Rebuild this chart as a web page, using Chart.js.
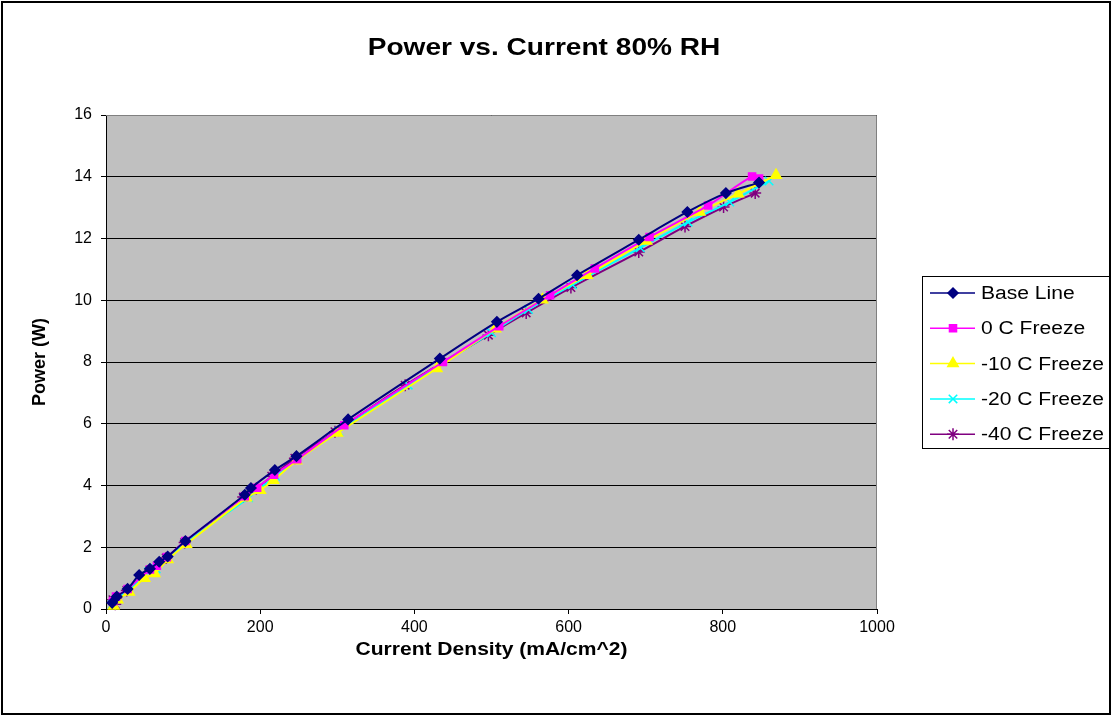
<!DOCTYPE html>
<html>
<head>
<meta charset="utf-8">
<title>Power vs. Current 80% RH</title>
<script src="https://cdn.jsdelivr.net/npm/chart.js@4/dist/chart.umd.min.js"></script>
<style>
  html, body { margin: 0; padding: 0; background: #fff; }
  canvas { display: block; }
</style>
</head>
<body>
<canvas id="power-chart" width="1112" height="717"></canvas>
<script>
// Current density (mA/cm^2) and power (W) for each run
const baseLineX = [8, 14, 28, 43, 57, 69, 80, 103, 180, 188, 219, 247, 314, 433, 507, 561, 611, 691, 754, 804, 847];
const baseLineY = [0.2, 0.4, 0.65, 1.1, 1.3, 1.53, 1.7, 2.2, 3.7, 3.92, 4.5, 4.95, 6.14, 8.11, 9.3, 10.05, 10.81, 11.96, 12.86, 13.47, 13.81];

const freeze0X = [9, 13, 28, 57, 66, 79, 103, 180, 196, 218, 248, 309, 437, 510, 576, 634, 705, 781, 838, 847];
const freeze0Y = [0.25, 0.4, 0.65, 1.28, 1.4, 1.68, 2.2, 3.65, 3.93, 4.35, 4.85, 5.95, 8.0, 9.16, 10.16, 11.03, 12.05, 13.07, 14.01, 13.94];

const freeze10X = [10, 15, 30, 50, 63, 80, 104, 182, 200, 217, 247, 300, 429, 505, 566, 624, 701, 770, 820, 869];
const freeze10Y = [0.1, 0.3, 0.55, 1.0, 1.15, 1.6, 2.1, 3.6, 3.85, 4.17, 4.8, 5.7, 7.79, 9.08, 10.02, 10.81, 11.92, 12.86, 13.45, 14.05];

const freeze20X = [8, 14, 29, 55, 65, 80, 103, 185, 200, 220, 248, 302, 392, 500, 548, 605, 693, 755, 809, 860];
const freeze20Y = [0.15, 0.35, 0.6, 1.2, 1.3, 1.65, 2.15, 3.6, 3.9, 4.3, 4.85, 5.75, 7.25, 8.95, 9.7, 10.5, 11.7, 12.53, 13.18, 13.86];

const freeze40X = [9, 12, 27, 57, 78, 102, 178, 195, 215, 245, 297, 388, 496, 545, 603, 691, 751, 801, 842];
const freeze40Y = [0.3, 0.15, 0.6, 1.26, 1.65, 2.15, 3.63, 3.9, 4.3, 4.88, 5.74, 7.25, 8.87, 9.59, 10.41, 11.56, 12.39, 13.02, 13.47];

const seriesNames = ['Base Line', '0 C Freeze', '-10 C Freeze', '-20 C Freeze', '-40 C Freeze'];
const xTicks = [0, 200, 400, 600, 800, 1000];
const yTicks = [0, 2, 4, 6, 8, 10, 12, 14, 16];

const FONT = 'Arial, "Liberation Sans", sans-serif';
const TEXT_STRETCH = 1.17; // horizontal text is a little wider than tall

function toPoints(xs, ys) {
  return xs.map((x, i) => ({ x: x, y: ys[i] }));
}

function makeSeries(label, xs, ys, color, style, radius) {
  return {
    label: label,
    data: toPoints(xs, ys),
    showLine: true,
    borderColor: color,
    backgroundColor: color,
    borderWidth: 2,
    pointStyle: style,
    pointRadius: radius,
    pointHoverRadius: radius,
    pointBackgroundColor: color,
    pointBorderColor: color,
    pointBorderWidth: 1.5,
    tension: 0.3,
    clip: false
  };
}

function wideText(ctx, text, x, y) {
  ctx.save();
  ctx.translate(x, y);
  ctx.scale(TEXT_STRETCH, 1);
  ctx.fillText(text, 0, 0);
  ctx.restore();
}

// white page, outer frame and grey plot area
const backdrop = {
  id: 'backdrop',
  beforeDraw(chart) {
    const { ctx, chartArea: a } = chart;
    ctx.save();
    ctx.fillStyle = '#fff';
    ctx.fillRect(0, 0, chart.width, chart.height);
    ctx.strokeStyle = '#000';
    ctx.lineWidth = 2;
    ctx.strokeRect(2, 2, chart.width - 4, chart.height - 5);
    ctx.fillStyle = '#c0c0c0';
    ctx.fillRect(a.left, a.top, a.right - a.left, a.bottom - a.top);
    ctx.restore();
  },
  beforeDatasetsDraw(chart) {
    const { ctx, chartArea: a } = chart;
    ctx.save();
    ctx.strokeStyle = '#808080';
    ctx.lineWidth = 1;
    ctx.beginPath();
    ctx.moveTo(a.left, a.top + 0.5);
    ctx.lineTo(a.right - 0.5, a.top + 0.5);
    ctx.lineTo(a.right - 0.5, a.bottom);
    ctx.stroke();
    ctx.restore();
  }
};

// chart title, x axis title and the boxed legend on the right
const decorations = {
  id: 'decorations',
  afterDraw(chart) {
    const ctx = chart.ctx;
    const a = chart.chartArea;
    ctx.save();
    ctx.fillStyle = '#000';
    ctx.textAlign = 'center';
    ctx.textBaseline = 'middle';
    ctx.font = 'bold 24px ' + FONT;
    wideText(ctx, 'Power vs. Current 80% RH', 544, 48);
    ctx.font = 'bold 18px ' + FONT;
    wideText(ctx, 'Current Density (mA/cm^2)', (a.left + a.right) / 2, 650);

    const box = { x: 922, y: 276, w: 187, h: 172 };
    ctx.fillStyle = '#fff';
    ctx.fillRect(box.x, box.y, box.w, box.h);
    ctx.strokeStyle = '#000';
    ctx.lineWidth = 1;
    ctx.strokeRect(box.x + 0.5, box.y + 0.5, box.w, box.h);

    ctx.font = '18px ' + FONT;
    ctx.textAlign = 'left';
    chart.data.datasets.forEach((ds, i) => {
      const y = box.y + 17 + i * 35.3;
      ctx.strokeStyle = ds.borderColor;
      ctx.lineWidth = 1.5;
      ctx.beginPath();
      ctx.moveTo(930, y);
      ctx.lineTo(975, y);
      ctx.stroke();
      ctx.fillStyle = ds.pointBackgroundColor;
      ctx.strokeStyle = ds.pointBorderColor;
      ctx.lineWidth = 1.5;
      Chart.helpers.drawPoint(ctx, { pointStyle: ds.pointStyle, radius: ds.pointRadius, rotation: 0, borderWidth: 1.5 }, 953, y);
      ctx.fillStyle = '#000';
      wideText(ctx, ds.label, 981, y + 1);
    });
    ctx.restore();
  }
};

const ctx = document.getElementById('power-chart').getContext('2d');
new Chart(ctx, {
  type: 'scatter',
  data: {
    datasets: [
      makeSeries(seriesNames[0], baseLineX, baseLineY, '#000080', 'rectRot', 5),
      makeSeries(seriesNames[1], freeze0X, freeze0Y, '#ff00ff', 'rect', 5),
      makeSeries(seriesNames[2], freeze10X, freeze10Y, '#ffff00', 'triangle', 6),
      makeSeries(seriesNames[3], freeze20X, freeze20Y, '#00ffff', 'crossRot', 6),
      makeSeries(seriesNames[4], freeze40X, freeze40Y, '#800080', 'star', 6)
    ]
  },
  options: {
    responsive: false,
    animation: false,
    devicePixelRatio: 1,
    layout: { padding: { top: 115, right: 235, left: 0, bottom: 0 } },
    plugins: {
      legend: { display: false },
      title: { display: false },
      tooltip: { enabled: false }
    },
    scales: {
      x: {
        type: 'linear',
        min: 0,
        max: 1000,
        afterBuildTicks: scale => { scale.ticks = xTicks.map(v => ({ value: v })); },
        afterFit: scale => { scale.height = 108; },
        ticks: { color: '#000', font: { family: FONT, size: 16 }, padding: 4, maxRotation: 0, callback: v => String(v) },
        grid: { drawOnChartArea: false, drawTicks: true, tickLength: 5, color: '#000' },
        border: { color: '#000', width: 1 },
        title: { display: false }
      },
      y: {
        type: 'linear',
        min: 0,
        max: 16,
        afterBuildTicks: scale => { scale.ticks = yTicks.map(v => ({ value: v })); },
        afterFit: scale => { scale.width = 106; },
        ticks: { color: '#000', font: { family: FONT, size: 16 }, padding: 9, callback: v => String(v) },
        grid: { color: '#000', drawTicks: true, tickLength: 5 },
        border: { color: '#000', width: 1 },
        title: {
          display: true,
          text: 'Power (W)',
          color: '#000',
          font: { family: FONT, size: 18, weight: 'bold' },
          padding: { top: 29, bottom: 0 }
        }
      }
    }
  },
  plugins: [backdrop, decorations]
});
</script>
</body>
</html>
